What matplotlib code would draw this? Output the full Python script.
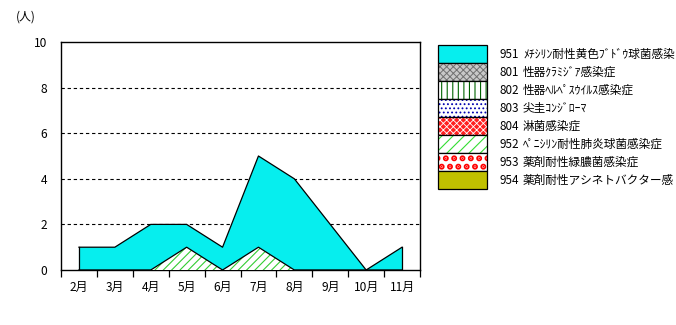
import matplotlib
matplotlib.use("Agg")
import matplotlib.pyplot as plt
from matplotlib.patches import Rectangle
import numpy as np

plt.rcParams['font.family'] = ['Noto Sans CJK JP', 'DejaVu Sans']
plt.rcParams['hatch.linewidth'] = 0.8

months = ["2月", "3月", "4月", "5月", "6月", "7月", "8月", "9月", "10月", "11月"]
s951 = [1, 1, 2, 2, 1, 5, 4, 2, 0, 1]
s952 = [0, 0, 0, 1, 0, 1, 0, 0, 0, 0]
y_ticks = [0, 2, 4, 6, 8, 10]
y_unit = "(人)"

legend_codes = ["951", "801", "802", "803", "804", "952", "953", "954"]
legend_names = [
    "ﾒﾁｼﾘﾝ耐性黄色ﾌﾞﾄﾞｳ球菌感染",
    "性器ｸﾗﾐｼﾞｱ感染症",
    "性器ﾍﾙﾍﾟｽｳｲﾙｽ感染症",
    "尖圭ｺﾝｼﾞﾛｰﾏ",
    "淋菌感染症",
    "ﾍﾟﾆｼﾘﾝ耐性肺炎球菌感染症",
    "薬剤耐性緑膿菌感染症",
    "薬剤耐性アシネトバクター感",
]
# (facecolor, hatch, hatchcolor, hatch linewidth)
legend_styles = [
    ("#06EEEE", None, None, None),
    ("#C8C8C8", "xxxxx", "#707070", 0.7),
    ("#ffffff", "|||", "#006400", 0.8),
    ("#ffffff", "....", "#0000B0", 0.8),
    ("#FF2020", "xxxxx", "#ffffff", 0.6),
    ("#ffffff", "///", "#33DD33", 0.8),
    ("#ffffff", "..", "#FF0000", 3.0),
    ("#C0C000", None, None, None),
]

W, H = 676, 325
fig = plt.figure(figsize=(W / 100, H / 100), dpi=100)
ax = fig.add_axes([61 / W, (H - 270) / H, 359 / W, 228 / H])

x = np.arange(len(months))
ax.fill_between(x, 0, s951, facecolor="#06EEEE", edgecolor="none", zorder=2)
ax.plot(x, s951, color="black", lw=0.9, zorder=3)
ax.plot([x[0], x[0]], [0, s951[0]], color="black", lw=0.9, zorder=3)
ax.plot([x[-1], x[-1]], [0, s951[-1]], color="black", lw=0.9, zorder=3)
ax.fill_between(x, 0, s952, facecolor="white", edgecolor="#33CC33", hatch="////",
                linewidth=0, zorder=4)
ax.plot(x, s952, color="black", lw=0.9, zorder=5)

ax.set_xlim(-0.5, len(months) - 0.5)
ax.set_ylim(0, 10)
ax.set_yticks(y_ticks)
ax.set_yticklabels([str(v) for v in y_ticks], fontsize=8.6)
ax.tick_params(axis="y", length=0, pad=10)
ax.set_xticks(x)
ax.set_xticklabels(months, fontsize=8.6)
ax.set_xticks(np.arange(-0.5, len(months), 1.0), minor=True)
ax.tick_params(axis="x", which="major", length=0, pad=8)
ax.tick_params(axis="x", which="minor", length=5, width=0.9, direction="out")
for v in y_ticks[1:-1]:
    ax.axhline(v, color="black", lw=0.8, ls=(0, (3, 2.5)), zorder=1)
for s in ax.spines.values():
    s.set_linewidth(1.0)

fig.text(16 / W, 1 - 17 / H, y_unit, fontsize=8.6, ha="left", va="center")

# legend
lx0, lx1, ly0, rh = 438, 487, 45, 18
for i, (code, name, (fc, hatch, hc, hlw)) in enumerate(
        zip(legend_codes, legend_names, legend_styles)):
    top = ly0 + rh * i
    r = Rectangle((lx0 / W, 1 - (top + rh) / H), (lx1 - lx0) / W, rh / H,
                  transform=fig.transFigure, facecolor=fc,
                  edgecolor=hc if hatch else "black", hatch=hatch, lw=0)
    if hatch and hasattr(r, "set_hatch_linewidth"):
        r.set_hatch_linewidth(hlw)
    fig.add_artist(r)
    b = Rectangle((lx0 / W, 1 - (top + rh) / H), (lx1 - lx0) / W, rh / H,
                  transform=fig.transFigure, facecolor="none", edgecolor="black", lw=0.9)
    fig.add_artist(b)
    yc = 1 - (top + rh / 2) / H
    fig.text(499 / W, yc, code, fontsize=8.4, ha="left", va="center")
    fig.text(523 / W, yc, name, fontsize=8.4, ha="left", va="center")

fig.savefig("out.png", dpi=100)
